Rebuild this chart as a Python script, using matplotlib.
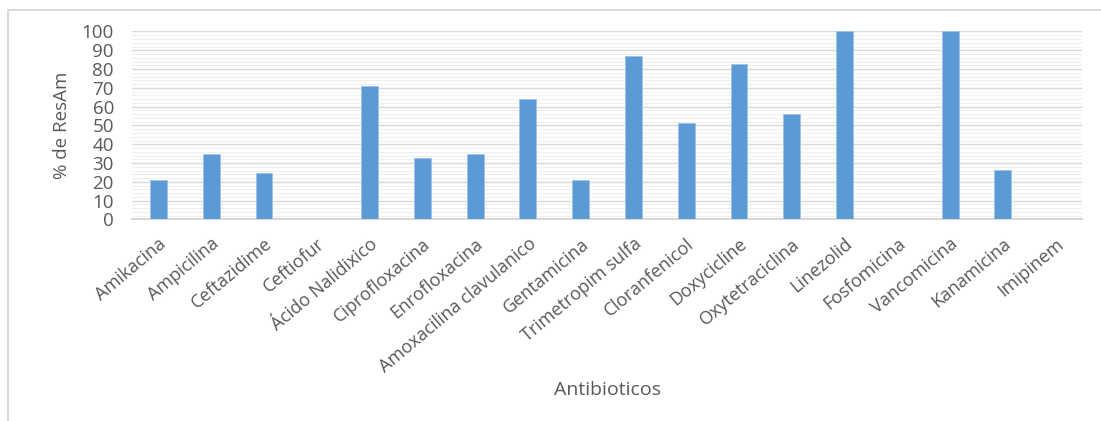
import matplotlib.pyplot as plt
import matplotlib.transforms as mtransforms
from matplotlib.patches import Rectangle
from matplotlib.ticker import MultipleLocator

# resistance per antibiotic (%)
antibioticos = ['Amikacina', 'Ampicilina', 'Ceftazidime', 'Ceftiofur', 'Ácido Nalidixico',
                'Ciprofloxacina', 'Enrofloxacina', 'Amoxacilina clavulanico', 'Gentamicina',
                'Trimetropim sulfa', 'Cloranfenicol', 'Doxycicline', 'Oxytetraciclina',
                'Linezolid', 'Fosfomicina', 'Vancomicina', 'Kanamicina', 'Imipinem']
resam = [21.1, 35.1, 24.6, 0, 70.8, 32.5, 35.1, 64.2, 21.1, 86.8, 51.1, 82.6,
         56.3, 100, 0, 100, 26.3, 0]

txt = '#595959'
plt.rcParams['font.family'] = ['Open Sans', 'DejaVu Sans']

fig = plt.figure(figsize=(11.01, 4.21), dpi=100, facecolor='w')
# chart frame
fig.patches.append(Rectangle((8/1101, -0.1), 1.2, 1 - 10/421 + 0.1, transform=fig.transFigure,
                             fill=False, edgecolor='#D9D9D9', lw=1.5))
ax = fig.add_axes([132/1101, 1 - 219.5/421, 950/1101, 188/421])

x = range(len(antibioticos))
ax.bar(x, resam, width=0.32, color='#5B9BD5', edgecolor='#9DC3E6', lw=0.6, zorder=3)

ax.set_xlim(-0.5, len(antibioticos) - 0.5)
ax.set_ylim(0, 100)
ax.yaxis.set_major_locator(MultipleLocator(10))
ax.yaxis.set_minor_locator(MultipleLocator(2))
ax.grid(axis='y', which='major', color='#D9D9D9', lw=1, zorder=0)
ax.grid(axis='y', which='minor', color='#F0F0F0', lw=0.8, zorder=0)
for s in ['top', 'right', 'left']:
    ax.spines[s].set_visible(False)
ax.spines['bottom'].set_color('#D9D9D9')
ax.spines['bottom'].set_linewidth(1.5)

ax.set_xticks(list(x))
ax.set_xticklabels(antibioticos, rotation=40, ha='right', rotation_mode='anchor',
                   fontsize=13, color=txt)
shift = mtransforms.ScaledTranslation(-8/100, 0, fig.dpi_scale_trans)
for lab in ax.get_xticklabels():
    lab.set_transform(lab.get_transform() + shift)
ax.tick_params(axis='x', length=0, pad=11)
ax.tick_params(axis='y', which='both', length=0, labelsize=13.5, labelcolor=txt, pad=13)

ax.set_ylabel('% de ResAm', fontsize=13.5, color=txt, labelpad=8)
fig.text(607/1101, 1 - 390/421, 'Antibioticos', ha='center', va='center', fontsize=14, color=txt)

fig.savefig('out.png', dpi=100)
